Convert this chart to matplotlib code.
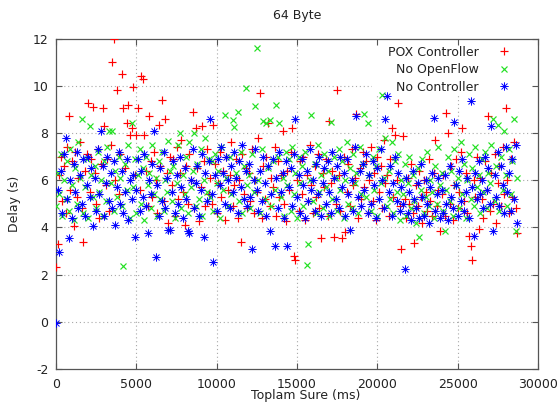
import numpy as np
import matplotlib
matplotlib.use("Agg")
import matplotlib.pyplot as plt
from matplotlib.path import Path
from matplotlib.lines import Line2D
from matplotlib.patches import Rectangle

# ---------------- data ----------------
title = "64 Byte"
x_label = "Toplam Sure (ms)"
y_label = "Delay (s)"
series_names = ["POX Controller", "No OpenFlow", "No Controller"]
x_ticks = [0, 5000, 10000, 15000, 20000, 25000, 30000]
y_ticks = [-2, 0, 2, 4, 6, 8, 10, 12]
sample_interval_ms = 100  # one ping every 100 ms

pox_delay = [
    2.3, 3.3, 6.2, 7.0, 5.1, 6.6, 4.6, 7.4, 8.7, 5.6, 6.8, 4.05, 7.2, 5.3, 6.1, 7.6, 4.8, 3.4, 6.4, 7.1, 9.25, 5.5, 6.9, 9.1,
    6.3, 5.0, 7.3, 4.4, 6.7, 9.05, 8.3, 5.8, 6.9, 4.7, 7.5, 11.0, 12.0, 6.0, 9.8, 5.4, 7.1, 10.5, 9.05, 6.5, 8.4, 9.2, 7.9, 8.2,
    9.95, 6.2, 7.9, 9.05, 5.6, 10.4, 10.3, 7.9, 6.4, 4.9, 8.7, 6.8, 5.3, 7.2, 6.0, 4.6, 8.35, 6.6, 9.4, 5.1, 8.6, 6.3, 4.2, 7.0,
    5.8, 6.9, 4.5, 7.4, 5.2, 6.3, 7.7, 5.5, 4.1, 6.6, 5.0, 7.1, 6.0, 8.9, 4.8, 8.2, 6.5, 4.25, 5.7, 8.3, 6.8, 4.9, 7.3, 5.4,
    6.1, 5.0, 8.35, 6.7, 4.6, 5.9, 7.2, 5.3, 6.4, 4.3, 7.0, 5.6, 6.2, 7.6, 4.9, 5.8, 6.9, 4.4, 6.0, 3.4, 7.1, 5.4, 6.5, 4.8,
    6.3, 5.1, 7.3, 4.6, 6.0, 5.5, 7.8, 9.7, 4.4, 6.6, 5.2, 7.0, 8.4, 4.9, 6.1, 5.7, 7.4, 4.5, 6.8, 5.3, 6.2, 8.1, 5.0, 4.25,
    6.4, 5.6, 7.2, 8.2, 2.8, 2.6, 6.0, 4.7, 6.8, 5.4, 7.0, 4.3, 6.2, 5.1, 7.5, 5.8, 4.6, 6.6, 5.3, 7.1, 4.8, 3.55, 6.3, 5.7,
    6.9, 4.5, 8.5, 5.9, 6.4, 3.6, 5.0, 9.8, 6.2, 4.7, 3.55, 7.0, 3.8, 5.5, 6.7, 4.9, 7.3, 5.8, 6.1, 8.8, 4.4, 6.5, 5.2, 7.2,
    5.7, 6.8, 4.6, 6.0, 7.4, 5.1, 6.3, 4.3, 7.0, 5.5, 6.6, 4.8, 7.7, 5.9, 6.2, 4.5, 6.9, 8.2, 5.3, 7.9, 6.0, 9.25, 4.9, 3.1,
    7.85, 5.2, 4.4, 6.1, 5.0, 6.7, 4.6, 3.35, 5.8, 4.9, 6.4, 5.3, 4.2, 6.0, 5.5, 4.7, 6.9, 5.1, 4.5, 6.3, 7.7, 4.9, 5.6, 3.85,
    5.4, 6.2, 4.5, 8.85, 8.0, 5.0, 6.6, 4.3, 5.8, 6.9, 4.8, 5.5, 7.2, 8.2, 5.1, 6.3, 4.6, 3.65, 3.2, 2.6, 6.0, 5.3, 7.0, 3.95,
    6.1, 5.2, 4.4, 6.8, 5.6, 8.7, 4.7, 6.3, 5.0, 7.1, 4.2, 5.9, 6.6, 4.9, 7.4, 5.4, 9.05, 6.0, 4.6, 6.9, 5.3, 7.6, 4.8, 3.75,
]

no_openflow_delay = [
    4.9, 6.3, 5.4, 7.1, 4.5, 6.0, 5.2, 6.8, 4.7, 7.3, 5.8, 4.3, 6.5, 5.0, 7.6, 6.1, 8.6, 4.6, 5.7, 6.9, 4.4, 8.3, 6.2, 5.3,
    6.6, 4.8, 7.2, 5.5, 6.0, 4.5, 6.8, 5.1, 7.4, 8.1, 5.9, 8.1, 4.7, 6.4, 5.3, 7.0, 6.1, 4.9, 2.35, 6.7, 5.6, 7.5, 4.4, 8.4,
    5.7, 6.9, 4.6, 6.2, 7.3, 5.0, 6.5, 4.3, 7.0, 5.8, 6.3, 4.8, 7.5, 5.4, 6.1, 4.5, 6.8, 5.2, 7.2, 4.7, 6.0, 5.5, 7.65, 6.4,
    5.1, 6.6, 4.4, 5.9, 7.5, 8.0, 4.8, 6.2, 5.4, 7.0, 4.6, 7.6, 5.7, 6.4, 8.0, 4.9, 6.7, 5.2, 7.3, 4.5, 6.0, 7.8, 5.5, 6.9,
    5.3, 6.8, 4.7, 7.1, 5.9, 6.4, 4.4, 7.4, 5.6, 8.75, 6.1, 4.9, 7.0, 5.4, 8.55, 8.25, 6.3, 8.9, 5.1, 7.2, 4.6, 6.6, 9.9, 5.8,
    6.2, 4.8, 7.1, 5.5, 9.15, 11.6, 6.0, 4.6, 7.3, 8.5, 5.2, 8.4, 6.5, 8.55, 4.9, 6.8, 5.6, 9.2, 7.0, 8.4, 5.3, 6.1, 4.5, 7.2,
    5.8, 6.9, 4.7, 7.4, 5.4, 6.3, 4.4, 7.0, 5.9, 6.6, 4.9, 7.2, 2.4, 3.3, 6.0, 8.75, 5.1, 6.7, 4.6, 7.5, 5.5, 6.2, 4.8, 7.1,
    5.7, 6.4, 4.5, 8.45, 5.2, 7.0, 6.1, 4.7, 7.3, 5.6, 6.8, 4.4, 6.0, 7.6, 5.0, 6.5, 4.8, 7.1, 5.9, 6.3, 4.6, 7.4, 5.4, 6.7,
    8.8, 5.3, 8.4, 6.2, 4.7, 7.0, 5.6, 6.6, 4.5, 7.3, 5.9, 9.6, 6.1, 7.8, 4.9, 6.4, 5.2, 7.6, 4.6, 6.8, 5.5, 7.1, 4.3, 6.0,
    5.4, 6.7, 4.5, 5.9, 7.0, 4.8, 6.2, 5.1, 4.2, 6.5, 3.6, 5.6, 6.9, 4.6, 5.3, 7.2, 4.9, 6.0, 5.5, 4.4, 6.6, 5.0, 7.4, 5.8,
    6.3, 4.7, 3.85, 5.6, 7.0, 5.1, 6.4, 4.5, 7.3, 5.8, 6.1, 4.8, 7.6, 5.4, 6.7, 4.4, 6.0, 7.1, 5.2, 6.5, 4.9, 7.4, 5.7, 6.2,
    4.6, 6.9, 5.5, 7.2, 4.8, 6.3, 5.9, 7.5, 8.6, 5.1, 6.6, 8.35, 4.7, 7.0, 5.6, 8.1, 6.2, 4.9, 7.3, 5.4, 6.8, 8.6, 3.85, 6.1,
]

no_controller_delay = [
    -0.05, 5.6, 2.95, 6.4, 4.6, 7.1, 7.8, 5.2, 3.55, 6.0, 4.4, 6.7, 5.5, 7.2, 4.8, 6.2, 5.0, 6.9, 4.5, 5.8, 7.0, 5.3, 6.5, 4.05,
    6.1, 4.7, 7.3, 5.4, 8.1, 6.6, 4.5, 5.9, 7.0, 5.1, 6.3, 4.8, 6.8, 4.1, 5.7, 7.2, 5.0, 6.4, 4.6, 5.5, 6.9, 4.3, 6.0, 5.2,
    6.2, 3.6, 5.6, 6.9, 4.7, 6.4, 5.3, 7.1, 4.9, 3.75, 6.0, 5.4, 6.7, 8.1, 2.75, 5.8, 4.5, 6.5, 5.1, 7.2, 4.8, 6.1, 3.9, 3.9,
    5.5, 6.8, 4.6, 6.2, 5.0, 7.0, 5.7, 4.4, 6.5, 5.2, 3.85, 3.75, 6.0, 7.3, 4.8, 5.9, 6.6, 4.5, 5.6, 7.1, 3.6, 6.3, 5.1, 6.8,
    8.6, 5.4, 2.55, 6.2, 4.7, 6.9, 5.8, 7.4, 6.3, 5.0, 7.0, 6.0, 4.8, 6.6, 5.5, 7.2, 6.1, 4.6, 6.8, 5.7, 7.5, 5.2, 6.4, 4.9,
    6.7, 5.3, 3.1, 6.0, 7.3, 5.6, 4.7, 6.4, 5.1, 7.0, 5.9, 4.5, 6.6, 3.85, 5.4, 6.9, 3.2, 6.1, 4.8, 7.2, 5.5, 6.3, 4.4, 6.8,
    3.2, 5.7, 6.5, 4.9, 7.1, 8.6, 5.3, 6.2, 4.6, 6.9, 5.8, 4.4, 6.4, 5.1, 7.3, 5.6, 6.0, 4.7, 6.7, 5.4, 7.0, 4.5, 5.9, 6.5,
    5.0, 6.8, 5.5, 4.6, 7.2, 6.1, 5.2, 6.6, 4.8, 7.0, 5.7, 6.3, 4.5, 6.9, 5.4, 3.9, 6.0, 4.7, 7.4, 8.7, 5.3, 6.4, 4.9, 6.7,
    5.6, 7.1, 4.6, 6.2, 5.0, 6.8, 5.8, 4.4, 6.5, 5.2, 7.3, 6.0, 4.8, 8.6, 9.55, 5.5, 6.6, 4.5, 5.9, 7.0, 5.1, 6.3, 4.7, 5.7,
    5.0, 2.25, 6.1, 4.6, 5.5, 4.3, 6.4, 5.2, 4.8, 5.9, 4.4, 6.7, 5.3, 4.5, 6.0, 5.0, 4.2, 5.7, 6.3, 8.65, 4.7, 5.4, 6.1, 4.4,
    5.6, 4.6, 6.2, 5.0, 4.3, 6.6, 5.3, 4.8, 8.45, 5.8, 4.5, 6.4, 5.1, 6.9, 4.7, 5.5, 6.1, 4.4, 9.35, 5.7, 3.65, 6.3, 5.2, 6.8,
    5.4, 6.0, 4.8, 7.0, 5.6, 6.5, 5.0, 8.3, 3.85, 6.2, 5.3, 7.2, 4.9, 6.6, 5.8, 4.6, 7.4, 5.5, 6.3, 4.7, 6.9, 5.2, 7.5, 4.2,
]

# --------------- styling / drawing ---------------
W, H = 560, 405
fig = plt.figure(figsize=(W / 100, H / 100), dpi=100)
ax_left, ax_right, ax_top, ax_bottom = 56, 538, 38.5, 369
ax = fig.add_axes([ax_left / W, 1 - ax_bottom / H, (ax_right - ax_left) / W, (ax_bottom - ax_top) / H])

plt.rcParams['font.family'] = ['DejaVu Sans']
fs = 9

asterisk = Path(
    [(-1, 0), (1, 0), (0, -1), (0, 1), (-0.72, -0.72), (0.72, 0.72), (-0.72, 0.72), (0.72, -0.72)],
    [Path.MOVETO, Path.LINETO] * 4,
)

colors = ["#ff0000", "#22e022", "#0000ff"]
markers = ["+", "x", asterisk]
sizes = [5.6, 4.7, 6.0]
widths = [0.85, 0.85, 0.7]
all_series = [pox_delay, no_openflow_delay, no_controller_delay]

def marker_style(c, m, s, w):
    return dict(linestyle="none", marker=m, ms=s, mew=w, color=c,
                markerfacecolor="none", markeredgecolor=c)

for k, (ys, c, m, s, w) in enumerate(zip(all_series, colors, markers, sizes, widths)):
    xs = np.arange(len(ys)) * sample_interval_ms
    ax.plot(xs, ys, zorder=3 + k, clip_on=True, **marker_style(c, m, s, w))

ax.set_xlim(x_ticks[0], x_ticks[-1])
ax.set_ylim(y_ticks[0], y_ticks[-1])
ax.set_xticks(x_ticks)
ax.set_yticks(y_ticks)
ax.set_xticklabels([str(t) for t in x_ticks], fontsize=fs, color="#222222")
ax.set_yticklabels([str(t) for t in y_ticks], fontsize=fs, color="#222222")

# grid (dotted, gnuplot-like)
for t in x_ticks[1:-1]:
    ax.axvline(t, color="#a8a8a8", lw=0.8, ls=(0, (1, 2.5)), zorder=0.6)
for t in y_ticks[1:-1]:
    ax.axhline(t, color="#a8a8a8", lw=0.8, ls=(0, (1, 2.5)), zorder=0.6)

# opaque key area
ax.add_patch(Rectangle((0.656, 0.829), 0.344, 0.171, transform=ax.transAxes,
                       facecolor="white", edgecolor="none", zorder=0.8))

ax.tick_params(direction="in", length=4.5, width=0.8, top=True, right=True,
               color="#555555", pad=5.5)
ax.tick_params(axis="x", pad=6.5)
for sp in ax.spines.values():
    sp.set_color("#555555")
    sp.set_linewidth(0.9)

fig.text((ax_left + ax_right) / 2 / W, 1 - 15 / H, title, ha="center", va="center",
         fontsize=fs, color="#222222")
ax.set_xlabel(x_label, fontsize=fs, color="#222222")
ax.xaxis.set_label_coords(0.519, -0.062)
ax.set_ylabel(y_label, fontsize=fs, color="#222222")
ax.yaxis.set_label_coords(-0.072, 0.5)

handles = [Line2D([], [], **marker_style(c, m, s, w))
           for c, m, s, w in zip(colors, markers, sizes, widths)]
leg = ax.legend(handles, series_names, loc="upper right",
                bbox_to_anchor=((516 - ax_left) / (ax_right - ax_left), 0.978),
                frameon=False, markerfirst=False, handlelength=2.0,
                handletextpad=1.0, labelspacing=0.35, borderpad=0,
                borderaxespad=0, fontsize=fs, numpoints=1)
for t in leg.get_texts():
    t.set_color("#222222")

fig.savefig("out.png", dpi=100)
